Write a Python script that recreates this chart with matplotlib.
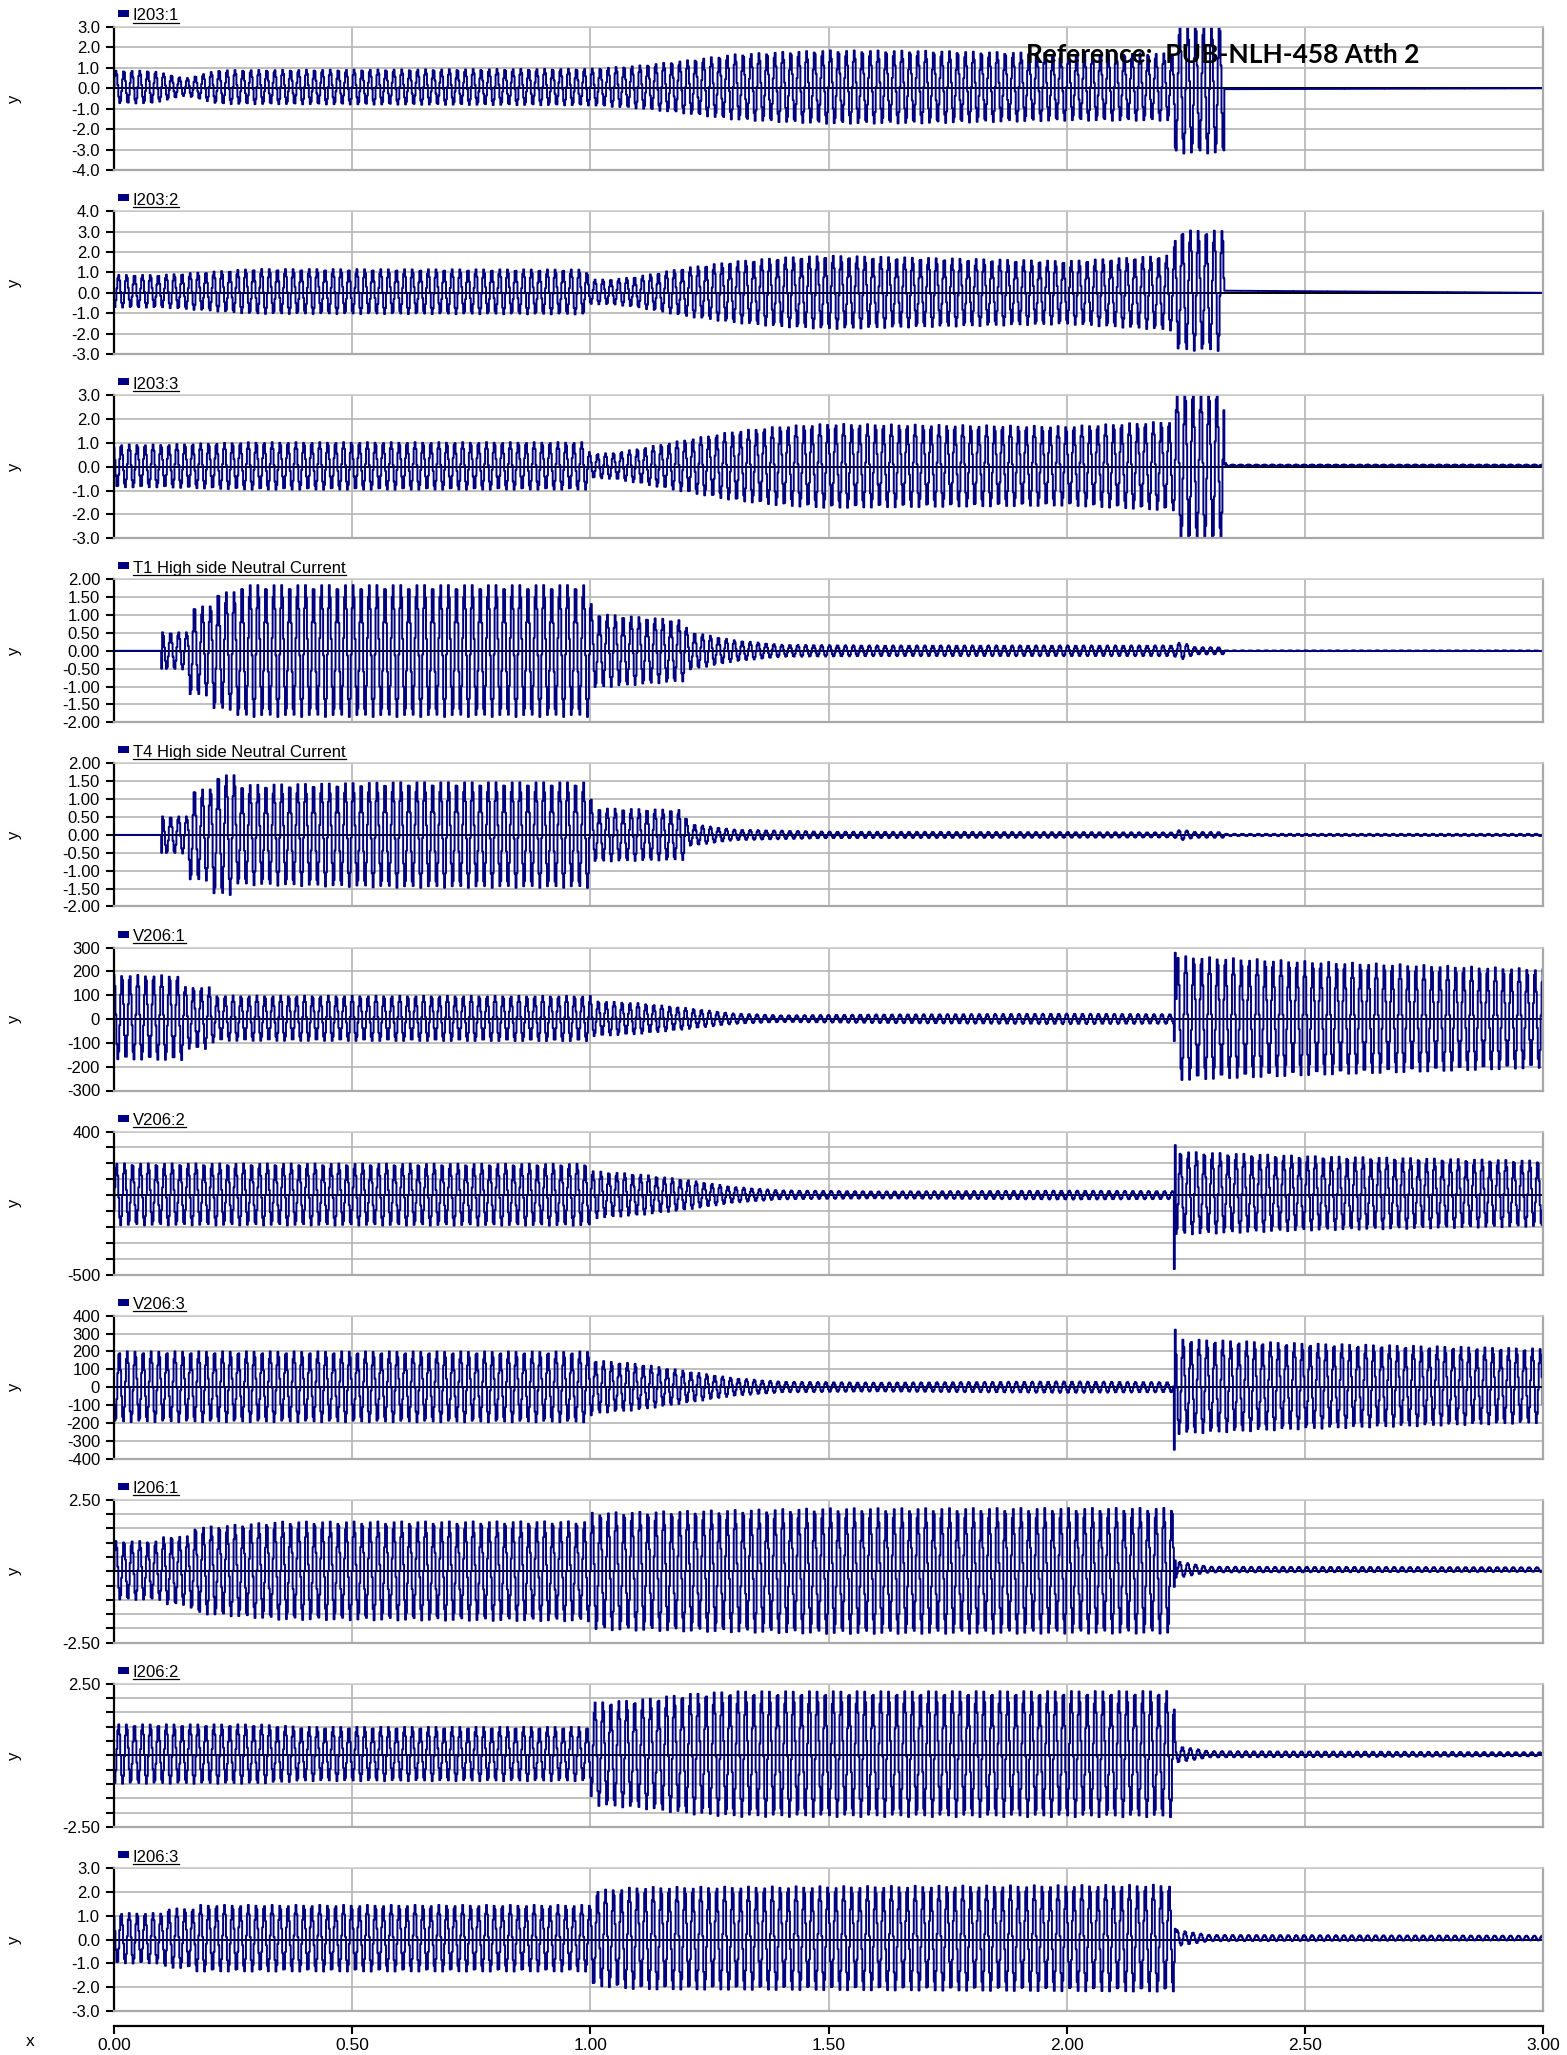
import numpy as np
import matplotlib
matplotlib.use('Agg')
from matplotlib import pyplot as plt
from matplotlib.patches import Rectangle
from matplotlib.lines import Line2D

plt.rcParams['font.family'] = ['Liberation Sans', 'DejaVu Sans']

# ---------------------------------------------- #
# Data
# envelope breakpoints (time s, peak amplitude), dc offset breakpoints,
# and single-sample spikes at the switching instants
# ---------------------------------------------- #
names = ['I203:1', 'I203:2', 'I203:3',
         'T1 High side Neutral Current', 'T4 High side Neutral Current',
         'V206:1', 'V206:2', 'V206:3',
         'I206:1', 'I206:2', 'I206:3']

y_lo = [-4.0, -3.0, -3.0, -2.0, -2.0, -300, -500, -400, -2.5, -2.5, -3.0]
y_hi = [3.0, 4.0, 3.0, 2.0, 2.0, 300, 400, 400, 2.5, 2.5, 3.0]
y_step = [1.0, 1.0, 1.0, 0.5, 0.5, 100, 100, 100, 0.5, 0.5, 1.0]
y_fmt = ['{:.1f}', '{:.1f}', '{:.1f}', '{:.2f}', '{:.2f}',
         '{:.0f}', '{:.0f}', '{:.0f}', '{:.2f}', '{:.2f}', '{:.1f}']
ends_only = [False, False, False, False, False, False, True, False, True, True, False]
phase_deg = [0, -120, 120, 40, 40, 90, -30, 210, 0, -120, 120]

freq = 60.0
fs = 500.0

t_i203_1 = [0.00, 0.08, 0.15, 0.22, 1.00, 1.10, 1.20, 1.30, 1.40, 1.50, 1.70, 2.00, 2.225, 2.228, 2.33, 2.332, 3.00]
a_i203_1 = [0.80, 0.80, 0.42, 0.83, 0.90, 1.05, 1.30, 1.60, 1.72, 1.80, 1.78, 1.65, 1.65, 3.15, 3.15, 0.00, 0.00]
t_i203_2 = [0.00, 0.10, 0.29, 0.99, 1.00, 1.05, 1.10, 1.20, 1.30, 1.40, 1.50, 2.00, 2.225, 2.228, 2.33, 2.332, 3.00]
a_i203_2 = [0.80, 0.80, 1.10, 1.10, 0.60, 0.62, 0.76, 1.19, 1.50, 1.70, 1.80, 1.55, 1.85, 2.95, 2.95, 0.00, 0.00]
t_i203_3 = [0.00, 0.10, 0.29, 0.99, 1.00, 1.05, 1.10, 1.20, 1.30, 1.40, 1.50, 2.00, 2.225, 2.228, 2.33, 2.332, 3.00]
a_i203_3 = [0.90, 0.90, 1.00, 1.00, 0.50, 0.55, 0.72, 1.10, 1.45, 1.67, 1.77, 1.67, 1.88, 3.15, 3.15, 0.03, 0.03]
t_t1 = [0.00, 0.100, 0.102, 0.155, 0.158, 0.203, 0.206, 0.255, 0.258, 1.00, 1.003, 1.20, 1.203, 1.30, 1.40, 1.60, 2.00, 2.225, 2.24, 2.27, 2.33, 2.332, 3.00]
a_t1 = [0.00, 0.00, 0.52, 0.52, 1.25, 1.25, 1.65, 1.65, 1.85, 1.85, 1.05, 0.85, 0.55, 0.30, 0.17, 0.15, 0.15, 0.15, 0.25, 0.10, 0.10, 0.01, 0.01]
t_t4 = [0.00, 0.100, 0.102, 0.155, 0.158, 0.203, 0.206, 0.255, 0.258, 0.60, 1.00, 1.003, 1.20, 1.203, 1.30, 1.50, 2.00, 2.225, 2.24, 2.27, 2.33, 2.332, 3.00]
a_t4 = [0.00, 0.00, 0.52, 0.52, 1.28, 1.28, 1.68, 1.68, 1.40, 1.48, 1.48, 0.75, 0.70, 0.32, 0.15, 0.09, 0.08, 0.07, 0.15, 0.08, 0.08, 0.03, 0.03]
t_v206_1 = [0.00, 0.145, 0.15, 0.20, 0.21, 1.00, 1.003, 1.10, 1.20, 1.30, 1.40, 1.60, 2.00, 2.225, 2.228, 2.50, 3.00]
a_v206_1 = [178, 178, 130, 130, 95, 95, 75, 65, 45, 22, 14, 18, 22, 20, 262, 240, 208]
t_v206_2 = [0.00, 1.00, 1.003, 1.10, 1.20, 1.30, 1.40, 1.60, 2.00, 2.225, 2.228, 2.50, 3.00]
a_v206_2 = [195, 195, 150, 130, 95, 50, 28, 22, 28, 25, 263, 235, 207]
t_v206_3 = [0.00, 1.00, 1.003, 1.10, 1.20, 1.30, 1.40, 1.60, 2.00, 2.225, 2.228, 2.50, 3.00]
a_v206_3 = [198, 198, 150, 130, 90, 50, 30, 25, 32, 28, 267, 240, 208]
t_i206_1 = [0.00, 0.10, 0.105, 0.16, 0.165, 0.35, 1.00, 1.003, 1.50, 2.225, 2.228, 2.30, 3.00]
a_i206_1 = [1.03, 1.03, 1.20, 1.20, 1.50, 1.72, 1.75, 2.05, 2.20, 2.20, 0.30, 0.10, 0.08]
t_i206_2 = [0.00, 0.30, 0.40, 1.00, 1.003, 1.10, 1.20, 1.30, 2.225, 2.228, 2.30, 3.00]
a_i206_2 = [1.04, 1.04, 0.95, 0.95, 1.80, 1.90, 2.10, 2.20, 2.21, 0.30, 0.11, 0.07]
t_i206_3 = [0.00, 0.105, 0.108, 0.17, 0.173, 1.00, 1.003, 1.10, 2.225, 2.228, 2.30, 3.00]
a_i206_3 = [1.06, 1.06, 1.25, 1.25, 1.40, 1.40, 2.00, 2.15, 2.25, 0.35, 0.13, 0.10]

# dc offset breakpoints
dct_i203_1 = [0.0, 2.225, 2.228, 3.0]
dc_i203_1 = [0.06, 0.06, -0.05, 0.0]
dct_i203_2 = [0.0, 2.225, 2.228, 3.0]
dc_i203_2 = [0.08, 0.0, 0.12, 0.0]
dct_i203_3 = [0.0, 2.33, 2.332, 3.0]
dc_i203_3 = [0.03, 0.03, 0.06, 0.06]
dct_t1 = [0.0, 3.0]
dc_t1 = [0.0, 0.0]
dct_t4 = [0.0, 3.0]
dc_t4 = [0.0, 0.0]
dct_v206_1 = [0.0, 0.2, 2.225, 2.228, 3.0]
dc_v206_1 = [8, 3, 0, 3, 2]
dct_v206_2 = [0.0, 2.225, 2.228, 3.0]
dc_v206_2 = [5, 0, 13, 10]
dct_v206_3 = [0.0, 2.225, 2.228, 3.0]
dc_v206_3 = [3, 0, 4, 8]
dct_i206_1 = [0.0, 1.0, 2.225, 2.228, 3.0]
dc_i206_1 = [0.03, 0.0, 0.02, 0.06, 0.06]
dct_i206_2 = [0.0, 2.225, 2.228, 3.0]
dc_i206_2 = [0.05, 0.05, 0.04, 0.04]
dct_i206_3 = [0.0, 1.0, 2.225, 2.228, 3.0]
dc_i206_3 = [0.05, 0.05, 0.05, 0.06, 0.06]

# spikes (time, value)
spk_t = [[], [], [2.334], [0.101], [0.101], [2.229], [2.226, 2.229], [2.226, 2.229], [2.229], [2.229], [2.229]]
spk_v = [[], [], [0.15], [-0.50], [-0.50], [278], [-465, 315], [-350, 322], [0.38], [0.47], [0.45]]

env_t = [t_i203_1, t_i203_2, t_i203_3, t_t1, t_t4, t_v206_1, t_v206_2, t_v206_3, t_i206_1, t_i206_2, t_i206_3]
env_a = [a_i203_1, a_i203_2, a_i203_3, a_t1, a_t4, a_v206_1, a_v206_2, a_v206_3, a_i206_1, a_i206_2, a_i206_3]
off_t = [dct_i203_1, dct_i203_2, dct_i203_3, dct_t1, dct_t4, dct_v206_1, dct_v206_2, dct_v206_3, dct_i206_1, dct_i206_2, dct_i206_3]
off_v = [dc_i203_1, dc_i203_2, dc_i203_3, dc_t1, dc_t4, dc_v206_1, dc_v206_2, dc_v206_3, dc_i206_1, dc_i206_2, dc_i206_3]

x_ticks = [0.0, 0.5, 1.0, 1.5, 2.0, 2.5, 3.0]

# ---------------------------------------------- #
# Figure layout (pixel based)
# ---------------------------------------------- #
W, H = 1567, 2055
fig = plt.figure(figsize=(W / 100, H / 100), dpi=100)

navy = '#000080'
grid_gray = '#b4b4b4'
left_px, right_px = 114, 1543
top0, pitch, ph = 27, 184.1, 143

t = np.arange(0, 3.0 + 1e-9, 1.0 / fs)
leg_texts = []

for i in range(len(names)):
    top = top0 + i * pitch
    ax = fig.add_axes([left_px / W, 1 - (top + ph) / H, (right_px - left_px) / W, ph / H])

    amp = np.interp(t, env_t[i], env_a[i])
    dc = np.interp(t, off_t[i], off_v[i])
    y = dc + amp * np.sin(2 * np.pi * freq * t + np.deg2rad(phase_deg[i]))
    for st, sv in zip(spk_t[i], spk_v[i]):
        y[np.argmin(np.abs(t - st))] = sv

    ax.axhline(0, color='black', lw=1.4, zorder=1)
    ax.plot(t, y, color=navy, lw=1.4, drawstyle='steps-mid', zorder=2)

    ax.set_xlim(0, 3.0)
    ax.set_ylim(y_lo[i], y_hi[i])
    yt = np.arange(y_lo[i], y_hi[i] + y_step[i] / 2, y_step[i])
    ax.set_yticks(yt)
    labels = []
    for k, v in enumerate(yt):
        if ends_only[i] and 0 < k < len(yt) - 1:
            labels.append('')
        else:
            labels.append(y_fmt[i].format(v + 0.0))
    ax.set_yticklabels(labels, fontsize=12)
    ax.set_xticks([0.5, 1.0, 1.5, 2.0, 2.5])
    ax.tick_params(axis='x', length=0, labelbottom=False)
    ax.tick_params(axis='y', direction='out', length=6, width=1.5, pad=4)
    ax.grid(True, color=grid_gray, lw=1.2, zorder=0)
    ax.set_axisbelow(True)
    ax.spines['left'].set_linewidth(1.6)
    ax.spines['left'].set_color('black')
    for s in ['right', 'bottom']:
        ax.spines[s].set_color('#a8a8a8')
        ax.spines[s].set_linewidth(1.6)
    ax.spines['top'].set_color('#cccccc')
    ax.spines['top'].set_linewidth(1.2)

    # y label
    fig.text(15 / W, 1 - (top + ph / 2) / H, 'y', rotation=90, ha='center', va='center', fontsize=12)

    # legend key
    fig.add_artist(Rectangle((118 / W, 1 - (top - 10) / H), 11 / W, 7 / H,
                             transform=fig.transFigure, color=navy, lw=0))
    txt = fig.text(133 / W, 1 - (top - 6.5) / H, names[i], ha='left', va='baseline', fontsize=12)
    leg_texts.append((txt, top))

# bottom x axis
axx = fig.add_axes([left_px / W, 1 - 2026 / H, (right_px - left_px) / W, 0.0001])
axx.set_xlim(0, 3.0)
axx.set_xticks(x_ticks)
axx.set_xticklabels(['{:.2f}'.format(v) for v in x_ticks], fontsize=12.5)
axx.set_yticks([])
for s in ['left', 'right', 'top']:
    axx.spines[s].set_visible(False)
axx.spines['bottom'].set_linewidth(1.6)
axx.tick_params(axis='x', direction='out', length=6, width=1.5, pad=3)
axx.patch.set_alpha(0)
fig.text(30 / W, 1 - 2041 / H, 'x', ha='center', va='center', fontsize=12.5)

# reference stamp
fig.text(1026 / W, 1 - 55 / H, 'Reference:  PUB-NLH-458 Atth 2', ha='left', va='center',
         fontsize=19, fontweight='bold', family=['Lato', 'DejaVu Sans'], zorder=10)

# underline the legend labels
fig.canvas.draw()
r = fig.canvas.get_renderer()
for txt, top in leg_texts:
    bb = txt.get_window_extent(r)
    yline = 1 - (top - 4.5) / H
    fig.add_artist(Line2D([bb.x0 / W, bb.x1 / W], [yline, yline], color='black', lw=0.9,
                          transform=fig.transFigure))

plt.savefig('out.png', dpi=100)
